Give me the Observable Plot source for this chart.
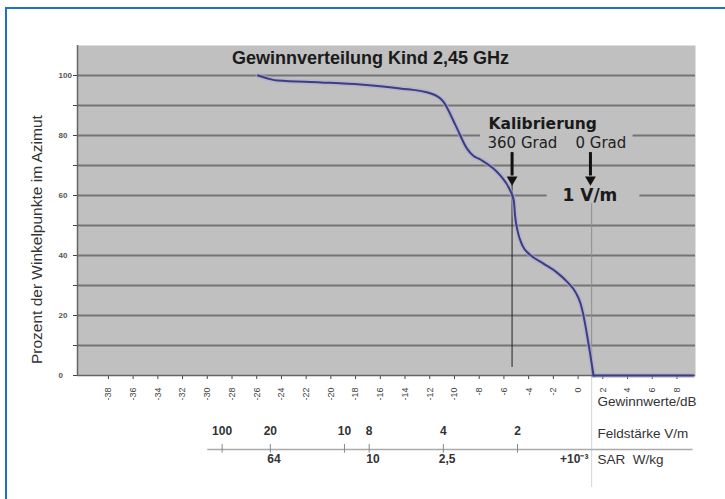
<!DOCTYPE html>
<html><head><meta charset="utf-8">
<script src="https://cdn.jsdelivr.net/npm/d3@7"></script>
<script src="https://cdn.jsdelivr.net/npm/@observablehq/plot@0.6"></script>
<style>
html,body{margin:0;padding:0;background:#fff;}
#wrap{position:relative;width:725px;height:499px;overflow:hidden;}
#border{position:absolute;left:5px;top:7px;width:760px;height:540px;border:2px solid #1f71c3;box-sizing:border-box;pointer-events:none;}
</style></head><body><div id="wrap"><div id="chart"></div><div id="border"></div></div>
<script>
// Gain distribution curve (gain in dB, percent of angle points)
const gainDb  = [-25.9, -25.1, -24.3, -20.8, -17.6, -14.4, -11.9, -10.9, -9.9, -9.0, -8.5, -7.9, -6.3, -5.5, -5.2, -5.1, -4.9, -4.5, -3.9, -2.8, -1.7, -0.9, -0.2, 0.2, 0.4, 0.8, 1.25];
const percent = [100, 99, 98.3, 97.7, 97, 95.7, 94, 91.3, 83.3, 75.7, 73.3, 72, 66.7, 61.7, 58.3, 53.3, 48.3, 43.3, 40.3, 37.3, 34.3, 31.3, 27.7, 24, 20.7, 11.7, 0];
const flatDb  = [1.25, 9.3];
const flatPct = [0, 0];

// Axis ticks
const xTicks = [-38, -36, -34, -32, -30, -28, -26, -24, -22, -20, -18, -16, -14, -12, -10, -8, -6, -4, -2, 0, 2, 4, 6, 8];
const yLabels = [0, 20, 40, 60, 80, 100];
const yTicks = [0, 10, 20, 30, 40, 50, 60, 70, 80, 90, 100];
const gridVals = [10, 20, 30, 40, 50, 60, 70, 80, 90, 100];

// Secondary scales below the axis
const fieldLabels = ["100", "20", "10", "8", "4", "2"];
const fieldPos = [-28.8, -24.9, -18.9, -16.9, -10.9, -4.9];
const sarLabels = ["64", "10", "2,5"];
const sarPos = [-24.6, -16.6, -10.6];

// Calibration markers (gain dB)
const calib360 = -5.34;
const calib0 = 1.0;
const arrowX = [calib360, calib0];

const title = "Gewinnverteilung Kind 2,45 GHz";
const yTitle = "Prozent der Winkelpunkte im Azimut";

const curve = gainDb.map((g, i) => ({g, p: percent[i], s: "a"}))
  .concat(flatDb.map((g, i) => ({g, p: flatPct[i], s: "b"})));

const bg = "#c0c0c0";

const chart = Plot.plot({
  width: 725, height: 499,
  marginLeft: 77, marginRight: 30, marginTop: 45, marginBottom: 124,
  x: {domain: [-40.5, 9.5], label: null},
  y: {domain: [0, 110], label: null},
  style: {background: "transparent", fontFamily: "'Liberation Sans', Arial, sans-serif", color: "#444", overflow: "visible"},
  marks: [
    Plot.frame({fill: bg, stroke: null}),
    Plot.ruleY(gridVals, {stroke: "#747474", strokeWidth: 1.8}),
    Plot.rect([0], {x1: () => -7.9, x2: () => 4.45, y1: () => 77.3, y2: () => 82.7, fill: bg}),
    Plot.rect([0], {x1: () => -2.5, x2: () => 5.0, y1: () => 57.3, y2: () => 62.7, fill: bg}),
    Plot.ruleX([-40.5], {stroke: "#666", strokeWidth: 1.5}),
    Plot.axisX({ticks: xTicks, tickRotate: -90, tickSize: 4, tickPadding: 8, fontSize: 9, tickFormat: d => String(d), label: null}),
    Plot.axisY({ticks: yTicks, tickSize: 4, tickFormat: () => "", label: null}),
    Plot.text(yLabels, {y: d => d, frameAnchor: "left", dx: -19, textAnchor: "start", fontSize: 8, fontWeight: "bold", fill: "#555"}),
    // calibration vertical lines
    Plot.ruleX([calib360], {y1: () => 64, y2: () => 2.7, stroke: "#222", strokeWidth: 1}),
    Plot.ruleX([calib0 + 0.1], {y1: () => 57.3, y2: () => 0, stroke: "#8e8e8e", strokeWidth: 1}),
    Plot.ruleX([calib0 + 0.1], {y1: () => 0, y2: () => -37.3, stroke: "#d4d4d4", strokeWidth: 1}),
    // curve
    Plot.line(curve, {x: "g", y: "p", z: "s", curve: "monotone-x", stroke: "#a9a9d2", strokeWidth: 5, strokeOpacity: 0.55}),
    Plot.ruleY([0], {stroke: "#666", strokeWidth: 1.5}),
    Plot.line(curve, {x: "g", y: "p", z: "s", curve: "monotone-x", stroke: "#3d3d82", strokeWidth: 2}),
    // arrows
    Plot.ruleX(arrowX, {y1: () => 74.3, y2: () => 66.5, stroke: "#111", strokeWidth: 3}),
    Plot.dot(arrowX, {x: d => d, y: () => 65.3, symbol: "triangle", r: 4, fill: "#111", stroke: null, rotate: 180}),
    // annotations
    Plot.text([title], {x: () => -16.8, y: () => 105.7, fontSize: 18, fontWeight: "bold", fill: "#1a1a1a"}),
    Plot.text(["Kalibrierung"], {x: () => -7.25, y: () => 83.7, textAnchor: "start", fontSize: 15.5, fontWeight: "bold", fontFamily: "'DejaVu Sans', sans-serif", fill: "#1a1a1a"}),
    Plot.text(["360 Grad"], {x: () => -7.33, y: () => 77.3, textAnchor: "start", fontSize: 15, fontFamily: "'DejaVu Sans', sans-serif", fill: "#222"}),
    Plot.text(["0 Grad"], {x: () => -0.21, y: () => 77.3, textAnchor: "start", fontSize: 15, fontFamily: "'DejaVu Sans', sans-serif", fill: "#222"}),
    Plot.text(["1 V/m"], {x: () => -1.26, y: () => 60, textAnchor: "start", fontSize: 17, fontWeight: "bold", fontFamily: "'DejaVu Sans', sans-serif", fill: "#1a1a1a"}),
    Plot.text([yTitle], {y: () => 45.3, frameAnchor: "left", dx: -40, rotate: -90, textAnchor: "middle", fontSize: 15.5, fill: "#333"}),
    // secondary scales
    Plot.text(["Gewinnwerte/dB"], {x: () => 1.57, frameAnchor: "bottom", dy: 30, textAnchor: "start", fontSize: 13.5, fill: "#333"}),
    Plot.text(["Feldstärke V/m"], {x: () => 1.57, frameAnchor: "bottom", dy: 62, textAnchor: "start", fontSize: 13.5, fill: "#333"}),
    Plot.text(["SAR\u00a0 W/kg"], {x: () => 1.57, frameAnchor: "bottom", dy: 88, textAnchor: "start", fontSize: 13.5, fill: "#333"}),
    Plot.ruleY([-24.67], {x1: () => -29.96, x2: () => 9.3, stroke: "#aaa", strokeWidth: 1.5}),
    Plot.ruleX(fieldPos, {y1: () => -23, y2: () => -25.9, stroke: "#888", strokeWidth: 1}),
    Plot.text(fieldLabels, {x: fieldPos, frameAnchor: "bottom", dy: 59, fontSize: 12, fontWeight: "bold", fill: "#333"}),
    Plot.text(sarLabels, {x: sarPos, frameAnchor: "bottom", dy: 87, fontSize: 12, fontWeight: "bold", fill: "#333"}),
    Plot.text(["+10\u207b\u00b3"], {x: () => 0.84, frameAnchor: "bottom", dy: 87, textAnchor: "end", fontSize: 12, fontWeight: "bold", fill: "#333"})
  ]
});
document.getElementById("chart").appendChild(chart);
</script></body></html>
